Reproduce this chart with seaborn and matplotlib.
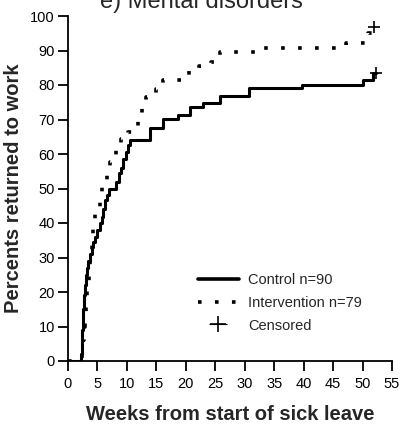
import matplotlib
matplotlib.use("Agg")
import matplotlib.pyplot as plt
from matplotlib.lines import Line2D
import seaborn as sns
import pandas as pd

# Control group (cumulative % returned to work)
ctrl_weeks = [0, 2.2, 2.3, 2.4, 2.5, 2.6, 2.7, 2.85, 3.0, 3.2, 3.45, 3.7, 4.0, 4.3, 4.6,
              5.0, 5.4, 5.7, 6.0, 6.3, 6.6, 7.0, 8.2, 8.6, 9.0, 9.4, 9.8, 10.2, 10.5,
              14.0, 16.1, 18.6, 20.7, 23.0, 25.8, 30.8, 39.7, 50.0, 51.7, 52.2]
ctrl_pct = [0, 2, 5, 9, 12, 15, 19, 22, 25, 27, 29, 31, 33, 34.5, 36,
            38, 40, 41.7, 44, 46.7, 48, 50, 52, 54.5, 56, 58.5, 60.5, 62.5, 64.2,
            67.5, 70.1, 71.3, 73.6, 74.8, 76.9, 79.0, 80.0, 81.4, 83.4, 83.4]

# Intervention group
int_weeks = [0, 2.3, 2.5, 2.7, 2.9, 3.1, 3.3, 3.5, 3.8, 4.1, 4.3, 4.6, 5.4, 5.8, 6.7,
             7.2, 8.1, 9.0, 10.2, 11.9, 12.6, 13.3, 14.9, 16.1, 20.5, 22.3, 24.3, 25.8,
             33.3, 47.2, 51.0, 51.6, 52.0]
int_pct = [0, 2, 6, 10, 14, 18, 22, 26, 30, 34, 38.8, 42.9, 46.1, 50.4, 54.2,
           57.7, 61.4, 64.3, 66.4, 69.6, 73.6, 76.5, 78.8, 81.4, 84.0, 85.5, 86.8, 89.5,
           90.7, 92.2, 95.0, 96.8, 96.8]

# Censored observations (end of follow-up)
cens_weeks = [52.2, 52.0]
cens_pct = [83.4, 96.8]

x_ticks = list(range(0, 56, 5))
y_ticks = list(range(0, 101, 10))
title = "e) Mental disorders"
x_label = "Weeks from start of sick leave"
y_label = "Percents returned to work"
legend_labels = ["Control n=90", "Intervention n=79", "Censored"]

sns.set_theme(style="ticks")
plt.rcParams["font.family"] = ["Liberation Sans", "DejaVu Sans"]

W, H = 403, 424
fig = plt.figure(figsize=(W / 100, H / 100), dpi=100)
ax = fig.add_axes([68 / W, 1 - 361 / H, (392 - 68) / W, (361 - 16) / H])

df_c = pd.DataFrame({"week": ctrl_weeks, "pct": ctrl_pct})
df_i = pd.DataFrame({"week": int_weeks, "pct": int_pct})
df_x = pd.DataFrame({"week": cens_weeks, "pct": cens_pct})

dots = (0, (1, 3.7))
sns.lineplot(data=df_c, x="week", y="pct", ax=ax, color="black", lw=2.2,
             drawstyle="steps-post", estimator=None, sort=False)
sns.lineplot(data=df_i, x="week", y="pct", ax=ax, color="black", lw=2.6,
             drawstyle="steps-post", estimator=None, sort=False,
             linestyle=dots, dash_capstyle="butt")
sns.scatterplot(data=df_x, x="week", y="pct", ax=ax, marker="+", s=70,
                color="black", linewidth=1.2, zorder=5)

ax.set_xlim(0, 55)
ax.set_ylim(0, 100)
ax.set_xticks(x_ticks)
ax.set_yticks(y_ticks)
ax.tick_params(axis="both", direction="out", length=7.5, width=1.3,
               labelsize=10.5, colors="black", pad=2)
ax.tick_params(axis="x", pad=4)
for s in ["top", "right"]:
    ax.spines[s].set_visible(False)
for s in ["left", "bottom"]:
    ax.spines[s].set_linewidth(1.3)
    ax.spines[s].set_color("black")
ax.set_xlabel(x_label, fontsize=14.5, fontweight="bold", labelpad=10)
ax.set_ylabel(y_label, fontsize=14.5, fontweight="bold", labelpad=5)
fig.text(0.5, 1 - 8 / H, title, ha="center", va="baseline", fontsize=17)

cens_handle = (
    Line2D([], [], color="black", lw=0, marker="_", markersize=13, markeredgewidth=0.8),
    Line2D([], [], color="black", lw=0, marker="+", markersize=12, markeredgewidth=1.2),
)
handles = [
    Line2D([], [], color="black", lw=2.6),
    Line2D([], [], color="black", lw=2.6, linestyle=dots, dash_capstyle="butt"),
    cens_handle,
]
ax.legend(handles, legend_labels, loc="upper left",
          bbox_to_anchor=(198 / W, 1 - 273 / H), bbox_transform=fig.transFigure,
          frameon=False, fontsize=10.5, handlelength=2.8, labelspacing=0.6,
          handletextpad=0.62, borderpad=0, borderaxespad=0)

fig.savefig("out.png", dpi=100)
